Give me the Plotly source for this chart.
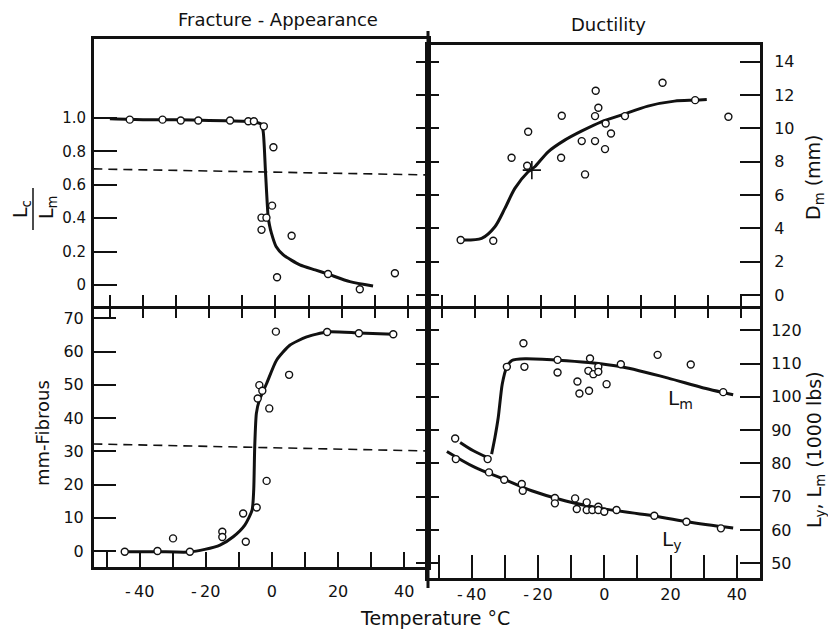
import plotly.graph_objects as go

FONT = "DejaVu Sans"
INK = "#111111"

# ---------------- data ----------------
# Fracture appearance (top-left): Lc/Lm vs temperature (deg C)
fa_temp = [-44, -34.1, -28.6, -23.3, -13.7, -8.2, -6.5, -3.5, -0.6, -1.0, -4.2, -2.7, -4.2, 4.9, 0.5, 15.9, 25.5, 36.1]
fa_ratio = [0.99, 0.99, 0.985, 0.985, 0.985, 0.98, 0.98, 0.95, 0.825, 0.475, 0.403, 0.403, 0.33, 0.295, 0.046, 0.066, -0.026, 0.07]
fa_curve_temp = [-50, -40, -30, -20, -10, -6, -4.4, -3.7, -3.0, -2.2, -1.8, -1.2, 0.2, 2.4, 7.4, 12, 15.9, 22.5, 29.5]
fa_curve_ratio = [0.995, 0.99, 0.99, 0.985, 0.98, 0.975, 0.965, 0.92, 0.68, 0.41, 0.36, 0.31, 0.23, 0.18, 0.12, 0.09, 0.065, 0.02, -0.006]
fa_ref_temp = [-55, 46]
fa_ref_ratio = [0.695, 0.659]

# Ductility (top-right): Dm (mm) vs temperature
duc_temp = [-44.3, -34.5, -29.0, -24.0, -24.3, -13.9, -14.1, -7.9, -6.9, -3.9, -3.7, -2.9, -3.9, -0.7, 0.9, -0.9, 5.1, 16.4, 26.2, 36.2]
duc_dm = [3.30, 3.26, 8.24, 9.80, 7.76, 10.76, 8.24, 9.24, 7.24, 9.24, 12.26, 11.24, 10.74, 10.30, 9.70, 8.76, 10.74, 12.74, 11.70, 10.70]
duc_curve_temp = [-44.3, -38, -34, -31, -28, -24, -22, -18, -13, -8, -2, 4, 12, 20, 26.2, 29.7]
duc_curve_dm = [3.30, 3.40, 4.1, 5.2, 6.4, 7.4, 7.7, 8.6, 9.3, 9.84, 10.4, 10.8, 11.34, 11.64, 11.70, 11.74]
duc_cross_temp = [-22.9]
duc_cross_dm = [7.5]

# Fibrous fracture (bottom-left): mm-Fibrous vs temperature
fib_temp = [-44.5, -34.6, -29.9, -24.8, -15.0, -15.0, -8.7, -7.9, -4.6, -4.3, -3.8, -2.9, -0.8, -1.6, 1.2, 5.2, 16.7, 26.3, 36.7]
fib_mm = [-0.2, 0, 3.8, -0.2, 5.8, 4.2, 11.3, 2.8, 13.1, 45.9, 49.9, 48.2, 42.9, 21.1, 66.0, 53.0, 65.9, 65.5, 65.2]
fib_curve_temp = [-44, -35, -25, -20.3, -15.7, -11.7, -8.2, -6.0, -5.5, -5.2, -4.7, -3.8, -1.6, 1.4, 5.4, 10.5, 16.7, 26.3, 36.7]
fib_curve_mm = [-0.2, -0.2, -0.3, 0.5, 1.8, 4.3, 7.8, 12.3, 18.4, 31.4, 41.4, 45.4, 50.4, 57.4, 61.9, 64.4, 65.9, 65.6, 65.2]
fib_ref_temp = [-54, 47]
fib_ref_mm = [32.2, 30.1]

# Loads (bottom-right): Lm and Ly (1000 lbs) vs temperature
lm_temp = [-45.0, -35.2, -29.4, -24.4, -24.1, -14.1, -14.1, -8.1, -7.5, -4.3, -4.6, -4.8, -3.3, -1.8, -1.8, 0.7, 5.0, 16.1, 26.1, 35.9]
lm_load = [87.5, 81.3, 109.0, 116.1, 109.0, 111.1, 107.3, 104.6, 101.0, 111.5, 101.8, 107.8, 106.8, 109.0, 107.5, 103.8, 109.8, 112.6, 109.7, 101.4]
lm_curve_temp = [-43.5, -39.5, -35.5, -34.0, -33.0, -32.0, -30.8, -29.4, -27.9, -23.9, -14.1, -4.8, 5.2, 19.3, 29.4, 38.9]
lm_curve_load = [86.3, 83.8, 81.9, 82.8, 87.8, 93.8, 103.8, 109.0, 110.9, 111.4, 111.0, 110.3, 109.0, 105.6, 102.8, 100.6]
ly_temp = [-44.8, -34.8, -30.2, -24.9, -24.6, -14.9, -14.9, -8.8, -8.3, -5.3, -5.3, -3.6, -1.8, -1.8, 0, 3.7, 15.1, 24.8, 35.2]
ly_load = [81.3, 77.3, 75.1, 73.8, 71.8, 69.6, 68.0, 69.5, 66.3, 68.3, 66.0, 66.0, 67.0, 66.0, 65.5, 66.0, 64.3, 62.5, 60.5]
ly_curve_temp = [-47.5, -39.0, -30.9, -21.9, -11.9, -0.8, 13.3, 24.8, 38.9]
ly_curve_load = [83.6, 78.8, 75.5, 71.8, 68.8, 66.5, 64.5, 62.5, 60.6]

# tick values / labels
temp_ticks = [-50, -40, -30, -20, -10, 0, 10, 20, 30, 40]
temp_label_vals = [-40, -20, 0, 20, 40]
temp_labels = ["-\u200940", "-\u200920", "0", "20", "40"]
fa_ticks = [0, 0.2, 0.4, 0.6, 0.8, 1.0]
fa_labels = ["0", "0.2", "0.4", "0.6", "0.8", "1.0"]
dm_ticks = [0, 2, 4, 6, 8, 10, 12, 14]
fib_ticks = [0, 10, 20, 30, 40, 50, 60, 70]
load_ticks = [50, 60, 70, 80, 90, 100, 110, 120]

# ---------------- layout geometry (pixels -> paper) ----------------
W, H = 828, 632
def px(v):
    return v / W
def py(v):
    return 1 - v / H

XL = [px(94), px(428)]
XR = [px(428), px(760)]
Y_TL = [py(306), py(39)]
Y_TR = [py(306), py(45)]
Y_BL = [py(567), py(306)]
Y_BR = [py(578), py(306)]

R_TL_X = [-54.8, 46.1]
R_TR_X = [-54.12, 45.7]
R_BL_X = [-53.8, 47.2]
R_BR_X = [-53.2, 47.0]
R_TL_Y = [-0.126, 1.473]
R_TR_Y = [-0.66, 15.01]
R_BL_Y = [-4.81, 73.71]
R_BR_Y = [45.59, 127.27]

TICKFONT = dict(family=FONT, size=16, color=INK)

def axis(**kw):
    d = dict(showgrid=False, zeroline=False, linecolor=INK, linewidth=3,
             tickcolor=INK, tickwidth=2, tickfont=TICKFONT, showline=True,
             layer="above traces")
    d.update(kw)
    return d

def overlay_axis(**kw):
    d = dict(showgrid=False, zeroline=False, showline=False, showticklabels=False,
             tickcolor=INK, tickwidth=2, ticklen=11)
    d.update(kw)
    return d

fig = go.Figure()

marker = dict(symbol="circle", size=7, color="white", line=dict(color=INK, width=1.4))
curve = dict(color=INK, width=3)
dash = dict(color=INK, width=1.6, dash="9px,6px")

# top-left
fig.add_trace(go.Scatter(x=fa_ref_temp, y=fa_ref_ratio, mode="lines", line=dash, xaxis="x", yaxis="y", hoverinfo="skip"))
fig.add_trace(go.Scatter(x=fa_curve_temp, y=fa_curve_ratio, mode="lines", line=dict(curve, shape="spline", smoothing=0.6), xaxis="x", yaxis="y"))
fig.add_trace(go.Scatter(x=fa_temp, y=fa_ratio, mode="markers", marker=marker, xaxis="x", yaxis="y"))
# top-right
fig.add_trace(go.Scatter(x=duc_curve_temp, y=duc_curve_dm, mode="lines", line=dict(curve, shape="spline", smoothing=0.8), xaxis="x2", yaxis="y2"))
fig.add_trace(go.Scatter(x=duc_temp, y=duc_dm, mode="markers", marker=marker, xaxis="x2", yaxis="y2"))
fig.add_trace(go.Scatter(x=duc_cross_temp, y=duc_cross_dm, mode="markers",
                         marker=dict(symbol="cross-thin", size=13, line=dict(color=INK, width=1.6)),
                         xaxis="x2", yaxis="y2"))
# bottom-left
fig.add_trace(go.Scatter(x=fib_ref_temp, y=fib_ref_mm, mode="lines", line=dash, xaxis="x3", yaxis="y3", hoverinfo="skip"))
fig.add_trace(go.Scatter(x=fib_curve_temp, y=fib_curve_mm, mode="lines", line=dict(curve, shape="spline", smoothing=0.6), xaxis="x3", yaxis="y3"))
fig.add_trace(go.Scatter(x=fib_temp, y=fib_mm, mode="markers", marker=marker, xaxis="x3", yaxis="y3"))
# bottom-right
fig.add_trace(go.Scatter(x=lm_curve_temp[:3], y=lm_curve_load[:3], mode="lines", line=dict(curve, shape="spline"), xaxis="x4", yaxis="y4"))
fig.add_trace(go.Scatter(x=lm_curve_temp[3:], y=lm_curve_load[3:], mode="lines", line=dict(curve, shape="spline", smoothing=0.6), xaxis="x4", yaxis="y4"))
fig.add_trace(go.Scatter(x=ly_curve_temp, y=ly_curve_load, mode="lines", line=dict(curve, shape="spline"), xaxis="x4", yaxis="y4"))
fig.add_trace(go.Scatter(x=lm_temp, y=lm_load, mode="markers", marker=marker, xaxis="x4", yaxis="y4"))
fig.add_trace(go.Scatter(x=ly_temp, y=ly_load, mode="markers", marker=marker, xaxis="x4", yaxis="y4"))

# dummy traces so the overlay axes (crossing ticks) are drawn
for xa, ya in [("x5", "y"), ("x6", "y2"), ("x2", "y5"), ("x2", "y6"), ("x4", "y7"), ("x4", "y8")]:
    fig.add_trace(go.Scatter(x=[None], y=[None], mode="markers", xaxis=xa, yaxis=ya, hoverinfo="skip"))

fig.update_layout(
    width=W, height=H, margin=dict(l=0, r=0, t=0, b=0),
    paper_bgcolor="white", plot_bgcolor="rgba(0,0,0,0)",
    showlegend=False, font=dict(family=FONT, color=INK),
    # top-left
    xaxis=axis(domain=XL, anchor="y", range=R_TL_X, tickvals=temp_ticks, ticks="inside",
               ticklen=11, showticklabels=False, mirror=True),
    yaxis=axis(domain=Y_TL, anchor="x", range=R_TL_Y, tickvals=fa_ticks, ticktext=fa_labels,
               ticks="inside", ticklen=23, mirror=True, ticklabelstandoff=2,
               tickfont=dict(family=FONT, size=15, color=INK)),
    # top-right
    xaxis2=axis(domain=XR, anchor="y2", range=R_TR_X, tickvals=temp_ticks, ticks="inside",
                ticklen=11, showticklabels=False, mirror=True),
    yaxis2=axis(domain=Y_TR, anchor="x2", range=R_TR_Y, tickvals=dm_ticks, side="right",
                ticks="inside", ticklen=20, mirror=True, ticklabelstandoff=8),
    # bottom-left
    xaxis3=axis(domain=XL, anchor="y3", range=R_BL_X, tickvals=temp_label_vals, ticktext=temp_labels,
                ticks="inside", ticklen=15, ticklabelstandoff=8,
                minor=dict(tick0=-50, dtick=10, ticks="inside", ticklen=15, tickwidth=2, tickcolor=INK)),
    yaxis3=axis(domain=Y_BL, anchor="x3", range=R_BL_Y, tickvals=fib_ticks, ticks="inside",
                ticklen=22, mirror=True, ticklabelstandoff=4),
    # bottom-right
    xaxis4=axis(domain=XR, anchor="y4", range=R_BR_X, tickvals=temp_label_vals, ticktext=temp_labels,
                ticks="inside", ticklen=23, ticklabelstandoff=0,
                minor=dict(tick0=-50, dtick=10, ticks="inside", ticklen=23, tickwidth=2, tickcolor=INK)),
    yaxis4=axis(domain=Y_BR, anchor="x4", range=R_BR_Y, tickvals=load_ticks, side="right",
                ticks="inside", ticklen=20, mirror=True, ticklabelstandoff=5),
    # crossing-tick overlays
    xaxis5=overlay_axis(overlaying="x", anchor="y", side="bottom", range=R_TL_X, tickvals=temp_ticks, ticks="outside"),
    xaxis6=overlay_axis(overlaying="x2", anchor="y2", side="bottom", range=R_TR_X, tickvals=temp_ticks, ticks="outside"),
    yaxis5=overlay_axis(overlaying="y2", anchor="x2", side="left", range=R_TR_Y, tickvals=dm_ticks, ticks="outside"),
    yaxis6=overlay_axis(overlaying="y2", anchor="x2", side="left", range=R_TR_Y, tickvals=dm_ticks, ticks="inside"),
    yaxis7=overlay_axis(overlaying="y4", anchor="x4", side="left", range=R_BR_Y, tickvals=load_ticks, ticks="outside"),
    yaxis8=overlay_axis(overlaying="y4", anchor="x4", side="left", range=R_BR_Y, tickvals=load_ticks, ticks="inside"),
)

def ann(text, x, y, size=16, angle=0):
    fig.add_annotation(text=text, x=px(x), y=py(y), xref="paper", yref="paper",
                       showarrow=False, textangle=angle, xanchor="center", yanchor="middle",
                       font=dict(family=FONT, size=size, color=INK))

ann("Fracture - Appearance", 278, 19, 18)
ann("Ductility", 608, 25, 18)
ann("Temperature °C", 435, 618, 19)
ann("mm-Fibrous", 42, 433, 18, -90)
ann("D<sub>m</sub> (mm)", 815, 178, 19, -90)
ann("L<sub>y</sub>, L<sub>m</sub> (1000 lbs)", 815, 450, 19, -90)
ann("L<sub>c</sub>", 21, 209, 19, -90)
ann("L<sub>m</sub>", 48, 207, 19, -90)

# in-plot curve labels (data coordinates of bottom-right panel)
fig.add_annotation(text="L<sub>m</sub>", x=23.1, y=99.3, xref="x4", yref="y4", showarrow=False,
                   font=dict(family=FONT, size=20, color=INK))
fig.add_annotation(text="L<sub>y</sub>", x=20.4, y=57.0, xref="x4", yref="y4", showarrow=False,
                   font=dict(family=FONT, size=20, color=INK))

# fraction bar of Lc/Lm and the extension of the central vertical rule
fig.add_shape(type="line", xref="paper", yref="paper", x0=px(33), x1=px(33), y0=py(188), y1=py(230),
              line=dict(color=INK, width=1.5))
fig.add_shape(type="line", xref="paper", yref="paper", x0=px(428), x1=px(428), y0=py(31), y1=py(588),
              line=dict(color=INK, width=3))

fig.write_html("out.html")
